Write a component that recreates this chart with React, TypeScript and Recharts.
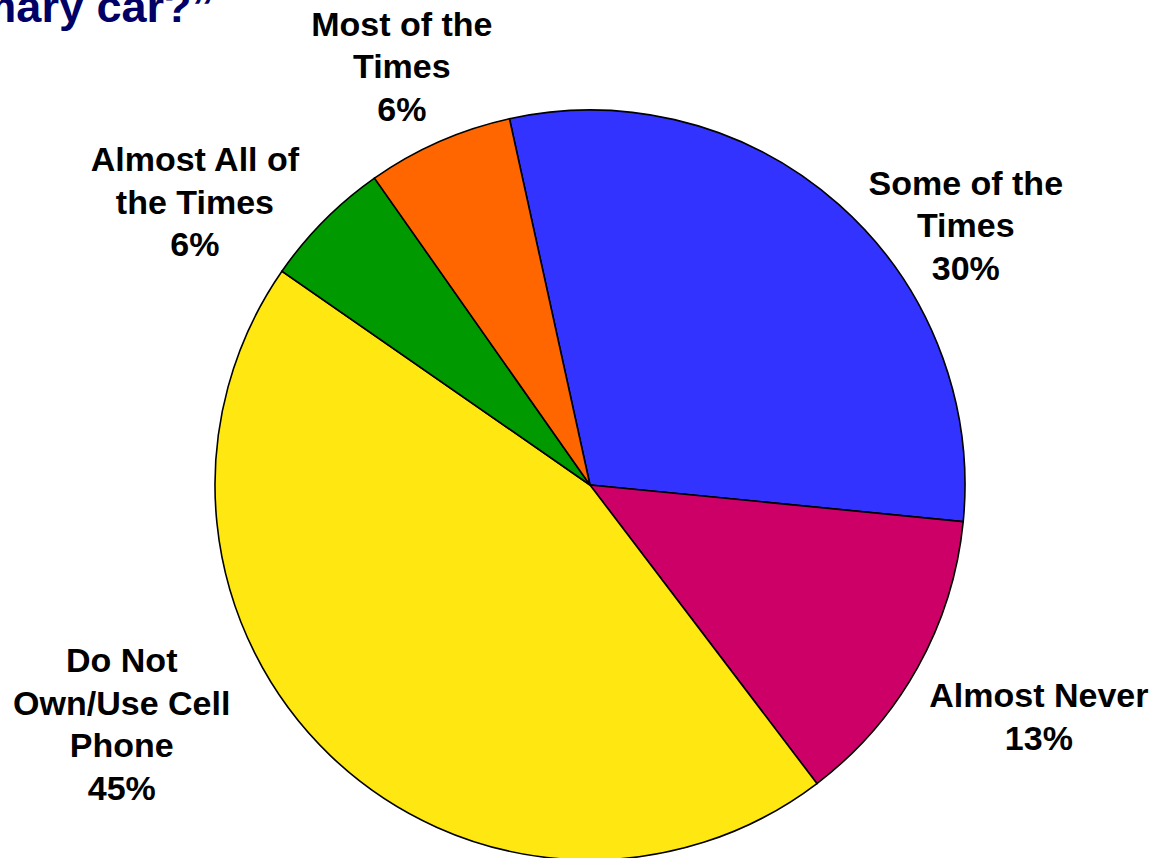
import { PieChart, Pie, Cell } from 'recharts';

const CATEGORIES = [
  'Some of the\nTimes',
  'Almost Never',
  'Do Not\nOwn/Use Cell\nPhone',
  'Almost All of\nthe Times',
  'Most of the\nTimes',
];

const SHARES = [30.0, 13.1, 45.0, 5.6, 6.3];

const COLORS = ['#3333FF', '#CC0066', '#FFE811', '#009900', '#FF6600'];

// label nudges from the radial anchor point (px)
const LABEL_NUDGE: [number, number][] = [
  [77, 77],
  [56, 12],
  [-157, -86],
  [-76, 34],
  [-7, -7],
];

const TITLE = 'primary car?\u201D';

const chartData = CATEGORIES.map((name, i) => ({ name, value: SHARES[i] }));

const RAD = Math.PI / 180;
const FONT = '"Liberation Sans", Arial, sans-serif';
const LINE_H = 42.5;

const renderLabel = (props: any) => {
  const { cx, cy, midAngle, outerRadius, percent, name, index } = props;
  const r = outerRadius * 1.2;
  const [dx, dy] = LABEL_NUDGE[index];
  const x = cx + r * Math.cos(-midAngle * RAD) + dx;
  const y = cy + r * Math.sin(-midAngle * RAD) + dy;
  const lines = [...String(name).split('\n'), `${Math.round(percent * 100)}%`];
  const firstBaseline = y - ((lines.length - 1) * LINE_H) / 2 + 12;
  return (
    <text
      key={`lbl-${index}`}
      x={x}
      y={firstBaseline}
      textAnchor="middle"
      fill="#000"
      fontSize={34}
      fontWeight="bold"
      fontFamily={FONT}
    >
      {lines.map((line, i) => (
        <tspan key={i} x={x} y={firstBaseline + i * LINE_H}>
          {line}
        </tspan>
      ))}
    </text>
  );
};

export default function App() {
  return (
    <div style={{ position: 'absolute', left: 0, top: 0, width: 1161, height: 858, background: '#fff', overflow: 'hidden' }}>
      <PieChart width={1161} height={858} margin={{ top: 0, right: 0, bottom: 0, left: 0 }}>
        <Pie
          data={chartData}
          dataKey="value"
          nameKey="name"
          cx={590}
          cy={485}
          outerRadius={375}
          startAngle={102.4}
          endAngle={-257.6}
          stroke="#000"
          strokeWidth={1.6}
          labelLine={false}
          label={renderLabel}
          isAnimationActive={false}
        >
          {chartData.map((_entry, index) => (
            <Cell key={`cell-${index}`} fill={COLORS[index]} />
          ))}
        </Pie>
      </PieChart>
      <svg width={1161} height={60} style={{ position: 'absolute', left: 0, top: 0 }}>
        <text x={214} y={22} textAnchor="end" fill="#000066" fontSize={45} fontWeight="bold" fontFamily={FONT}>
          {TITLE}
        </text>
      </svg>
    </div>
  );
}
